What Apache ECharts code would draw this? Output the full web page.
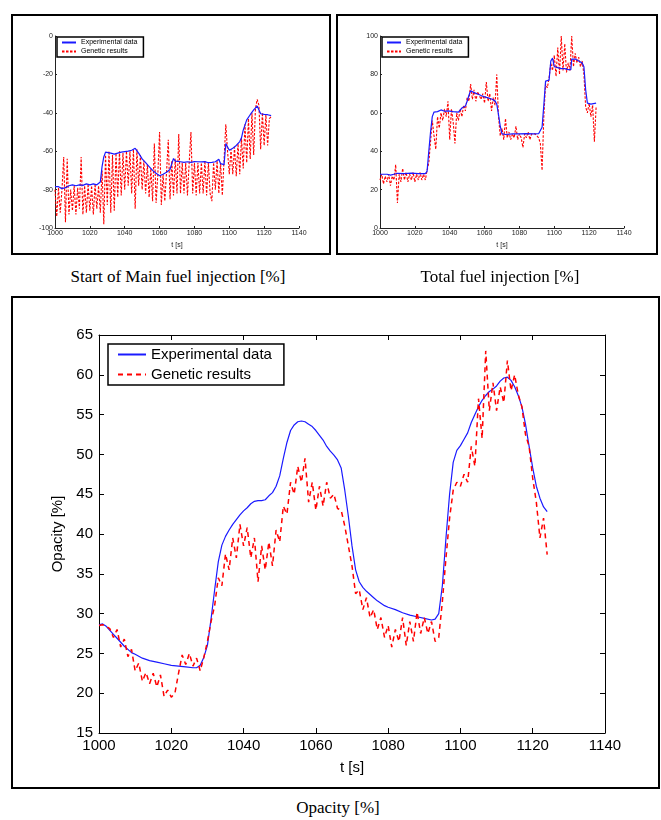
<!DOCTYPE html>
<html>
<head>
<meta charset="utf-8">
<script src="https://cdn.jsdelivr.net/npm/echarts@6/dist/echarts.min.js"></script>
<style>
body { margin: 0; background: #fff; width: 661px; height: 820px; position: relative; overflow: hidden; }
.chart { position: absolute; }
.frame { position: absolute; border: 2px solid #000; box-sizing: border-box; pointer-events: none; }
.caption { position: absolute; font-family: 'Liberation Serif', 'Times New Roman', serif; font-size: 17px; color: #000; text-align: center; white-space: nowrap; line-height: 20px; }
</style>
</head>
<body>
<div id="main-charts" class="chart" style="left:11px;top:14px;width:320px;height:241px"></div>
<div class="frame" style="left:11px;top:14px;width:320px;height:241px"></div>
<div id="total-charts" class="chart" style="left:336px;top:14px;width:322px;height:241px"></div>
<div class="frame" style="left:336px;top:14px;width:322px;height:241px"></div>
<div id="opacity-charts" class="chart" style="left:11px;top:296px;width:649px;height:493px"></div>
<div class="frame" style="left:11px;top:296px;width:649px;height:493px"></div>
<div class="caption" style="left:28px;width:300px;top:267px">Start of Main fuel injection [%]</div>
<div class="caption" style="left:350px;width:300px;top:267px">Total fuel injection [%]</div>
<div class="caption" style="left:188px;width:300px;top:798px">Opacity [%]</div>
<script>
// 遗传算法结果: 1 s 采样, t = 1000 .. 1124
const genStart = 1000
const genEnd = 1124

// Start of Main fuel injection [%]
const mainExpT = [1000, 1002, 1004, 1006, 1008, 1010, 1012, 1014, 1016, 1018, 1020, 1022, 1024, 1026, 1027,
  1028, 1029, 1030, 1032, 1034, 1036, 1038, 1040, 1042, 1044, 1046, 1047, 1048, 1050, 1052,
  1054, 1056, 1058, 1060, 1062, 1064, 1066, 1067, 1068, 1069, 1070, 1072, 1074, 1076, 1078,
  1080, 1082, 1084, 1086, 1088, 1090, 1092, 1094, 1095, 1096, 1097, 1098, 1099, 1100, 1102,
  1104, 1106, 1107, 1108, 1110, 1112, 1114, 1116, 1117, 1118, 1120, 1122, 1124]
const mainExpV = [-78.5, -78.5, -79.5, -79, -78, -77.5, -78, -77.5, -77.8, -77, -77.5, -77, -77.5, -76, -68,
  -63, -60.5, -60, -61, -61.5, -61, -60.5, -60.2, -60, -59.5, -58.5, -59, -61, -64, -66,
  -68, -70, -71.5, -72.8, -72, -71, -69.5, -66.5, -63.8, -65.2, -65.8, -65.5, -65.8, -65.5, -65.8,
  -65.4, -65.5, -65.6, -65.4, -66, -65.8, -65.5, -64.2, -66.5, -67.5, -67, -56, -57, -59.5, -58.5,
  -57, -55, -53, -49, -43.7, -41, -38.5, -36.5, -35.7, -40.5, -40.8, -41, -41.5]
const mainGen = [
  -80, -94, -79, -92, -80, -63, -97, -64, -93, -80,
  -91, -78, -93, -79, -90, -63, -93, -78, -92, -77,
  -91, -78, -93, -77, -90, -78, -92, -70, -98, -62,
  -88, -60, -92, -62, -91, -61, -84, -60, -83, -61,
  -80, -60, -78, -60, -82, -59, -90, -59, -78, -62,
  -80, -65, -82, -67, -84, -69, -86, -56, -87, -72,
  -50, -88, -72, -86, -71, -54, -85, -65, -83, -64,
  -82, -51, -82, -66, -82, -66, -83, -66, -50, -82,
  -66, -83, -66, -82, -66, -82, -65, -83, -66, -82,
  -86, -66, -80, -65, -82, -66, -83, -82, -46, -60,
  -72, -59, -72, -58, -73, -56, -72, -53, -69, -46,
  -66, -43, -64, -40, -62, -38, -33, -36, -59, -40,
  -57, -41, -57, -43, -42]

// Total fuel injection [%]
const totalExpT = [1000, 1004, 1006, 1008, 1010, 1014, 1018, 1022, 1026, 1027, 1028, 1029, 1030, 1031, 1033,
  1035, 1037, 1039, 1042, 1045, 1047, 1049, 1050, 1051, 1052, 1054, 1056, 1058, 1060, 1062,
  1064, 1066, 1067, 1068, 1069, 1070, 1072, 1076, 1080, 1084, 1088, 1091, 1092, 1093, 1094,
  1095, 1097, 1098, 1099, 1100, 1102, 1104, 1106, 1108, 1109.5, 1110, 1112, 1114, 1116, 1117,
  1118, 1119, 1121, 1124]
const totalExpV = [28, 28, 27.5, 28, 28.5, 28.3, 28.6, 28.3, 28.3, 29.5, 40, 50, 58, 60.4, 60.6,
  61.5, 60.8, 61, 60.6, 60.4, 62.5, 63.5, 66, 69, 71.5, 70.5, 69.8, 69, 68.3, 67.8,
  67.2, 66.2, 64.5, 59, 53, 49, 48.7, 49, 49, 49.2, 49, 49.1, 50, 52.5, 64,
  76.5, 77, 87, 88.5, 84, 83.5, 83, 83, 82.5, 82.5, 88, 88, 87, 86, 84,
  72, 65, 64.5, 65]
const totalGen = [
  25, 28, 23, 27, 24, 28, 22, 27, 25, 33,
  13, 28, 24, 31, 25, 29, 24, 28, 25, 29,
  24, 28, 25, 29, 25, 28, 25, 30, 34, 45,
  56, 48, 41, 58, 52, 60, 56, 62, 58, 66,
  46, 62, 55, 44, 60, 56, 62, 58, 64, 61,
  68, 66, 75, 67, 72, 66, 71, 72, 67, 70,
  65, 76, 66, 70, 61, 68, 64, 80, 58, 48,
  52, 46, 57, 47, 50, 46, 49, 47, 53, 46,
  49, 47, 42, 49, 47, 50, 46, 49, 48, 49,
  48, 47, 44, 30, 58, 75, 73, 78, 86, 82,
  90, 79, 94, 80, 100, 82, 96, 81, 86, 82,
  100, 84, 91, 86, 89, 84, 87, 80, 63, 60,
  65, 58, 64, 45, 63]

// Opacity [%]
const opacityExpT = [1000, 1001, 1002, 1003, 1004, 1005, 1006, 1007, 1008, 1009,
  1010, 1012, 1014, 1016, 1018, 1020, 1022, 1024, 1026, 1027,
  1028, 1029, 1030, 1031, 1032, 1033, 1034, 1035, 1036, 1037,
  1038, 1039, 1040, 1041, 1042, 1043, 1044, 1045, 1046, 1047,
  1048, 1049, 1050, 1051, 1052, 1053, 1054, 1055, 1056, 1057,
  1058, 1059, 1060, 1061, 1062, 1063, 1064, 1065, 1066, 1067,
  1068, 1069, 1070, 1071, 1072, 1073, 1074, 1075, 1076, 1077,
  1078, 1079, 1080, 1082, 1084, 1086, 1088, 1090, 1092,
  1093, 1094, 1095, 1096, 1097, 1098, 1099, 1100, 1101, 1102,
  1103, 1104, 1105, 1106, 1107, 1108, 1109, 1110, 1111, 1112,
  1113, 1114, 1115, 1116, 1117, 1118, 1119, 1120, 1121, 1122,
  1123, 1124]
const opacityExpV = [28.6, 28.7, 28.4, 27.9, 27.4, 26.9, 26.4, 25.9, 25.5, 25.1,
  24.9, 24.4, 24.1, 23.9, 23.7, 23.5, 23.4, 23.3, 23.2, 23.2,
  23.5, 24.5, 26.0, 29.3, 33.0, 36.5, 38.6, 39.7, 40.5, 41.2,
  41.8, 42.4, 42.9, 43.3, 43.8, 44.1, 44.2, 44.2, 44.3, 44.8,
  45.2, 46.0, 47.3, 49.5, 51.5, 53.0, 53.7, 54.1, 54.2, 54.1,
  53.8, 53.5, 53.0, 52.4, 51.8, 51.0, 50.4, 49.9, 49.3, 48.3,
  45.5, 42.2, 38.5, 35.5, 34.0, 33.3, 32.8, 32.4, 32.0, 31.6,
  31.3, 31.0, 30.8, 30.5, 30.1, 29.8, 29.6, 29.4, 29.2,
  29.3, 30.0, 33.5, 39.5, 45.0, 49.0, 50.5, 51.1, 51.9, 52.7,
  54.0, 55.0, 56.0, 56.8, 57.4, 57.9, 58.2, 58.6, 59.2, 59.6,
  59.7, 59.3, 58.5, 57.4, 56.0, 53.8, 51.0, 48.3, 46.0, 44.5,
  43.4, 42.8]
const opacityGen = [
  28.5, 28.6, 28.4, 28.1, 27.0, 28.0, 25.8, 26.8, 24.6, 25.5,
  22.8, 23.8, 21.5, 22.6, 21.2, 22.5, 20.8, 22.3, 19.6, 20.4,
  19.5, 20.0, 22.5, 24.8, 23.6, 25.0, 23.4, 24.4, 22.8, 24.5,
  26.5, 29.0, 31.0, 34.5, 33.5, 37.5, 35.5, 39.5, 37.0, 41.2,
  38.5, 40.8, 37.0, 39.5, 34.0, 38.5, 35.5, 39.0, 36.0, 40.5,
  39.0, 43.5, 42.5, 46.5, 45.0, 48.5, 46.5, 49.5, 44.0, 46.5,
  43.0, 46.0, 43.5, 46.5, 44.5, 45.0, 43.2, 43.0, 41.0, 38.5,
  36.0, 32.5, 33.0, 30.5, 32.0, 29.5, 30.5, 28.0, 29.5, 27.0,
  28.5, 25.8, 28.0, 26.5, 29.5, 26.0, 29.0, 26.5, 30.2, 27.5,
  29.5, 27.5, 29.0, 26.5, 27.0, 31.5, 37.0, 42.0, 45.5, 46.5,
  46.0, 47.5, 46.5, 51.0, 48.5, 57.0, 52.0, 63.0, 55.5, 59.0,
  55.5, 58.5, 56.5, 61.8, 58.0, 60.0, 57.5, 56.0, 52.5, 51.0,
  47.0, 44.0, 39.5, 42.0, 37.4]

const FONT = "'Liberation Sans', Arial, sans-serif"
const BLUE = '#1a1aff'
const RED = '#ff0000'

function pairs(ts, vs) {
  return ts.map((t, i) => [t, vs[i]])
}
function genPairs(vs) {
  const out = []
  for (let t = genStart; t <= genEnd; t++) out.push([t, vs[t - genStart]])
  return out
}
function plain(v) {
  return String(v)
}

function getSmallCharts(id, expT, expV, gen, yMin, yMax) {
  const charts = echarts.init(document.getElementById(id))
  charts.setOption({
    animation: false,
    grid: { left: 44, top: 22, width: 244, height: 192 },
    legend: {
      left: 46,
      top: 23,
      orient: 'vertical',
      borderColor: '#000',
      borderWidth: 1.5,
      padding: [2, 6, 2, 4],
      itemWidth: 14,
      itemHeight: 7,
      itemGap: 2,
      itemStyle: { opacity: 0 },
      textStyle: { fontSize: 7, fontFamily: FONT, color: '#000' },
      data: ['Experimental data', 'Genetic results']
    },
    xAxis: {
      type: 'value',
      min: 1000,
      max: 1140,
      interval: 20,
      name: 't [s]',
      nameLocation: 'middle',
      nameGap: 11,
      nameTextStyle: { fontSize: 7, fontFamily: FONT, color: '#222' },
      axisLine: { onZero: false, lineStyle: { color: '#222', width: 1 } },
      axisTick: { inside: true, length: 2, lineStyle: { color: '#222' } },
      axisLabel: { fontSize: 7, fontFamily: FONT, color: '#222', margin: 2, formatter: plain },
      splitLine: { show: false }
    },
    yAxis: {
      type: 'value',
      min: yMin,
      max: yMax,
      interval: 20,
      axisLine: { show: true, onZero: false, lineStyle: { color: '#222', width: 1 } },
      axisTick: { show: true, inside: true, length: 2, lineStyle: { color: '#222' } },
      axisLabel: { fontSize: 7, fontFamily: FONT, color: '#222', margin: 2, formatter: plain },
      splitLine: { show: false }
    },
    series: [
      {
        name: 'Experimental data',
        type: 'line',
        symbol: 'none',
        z: 3,
        lineStyle: { color: BLUE, width: 1.2 },
        itemStyle: { color: BLUE },
        data: pairs(expT, expV)
      },
      {
        name: 'Genetic results',
        type: 'line',
        symbol: 'none',
        z: 2,
        lineStyle: { color: RED, width: 1.1, type: [2.5, 1.5] },
        itemStyle: { color: RED },
        data: genPairs(gen)
      }
    ]
  })
}

function getOpacityCharts() {
  const charts = echarts.init(document.getElementById('opacity-charts'))
  const axisLine = { show: true, onZero: false, lineStyle: { color: '#000', width: 1 } }
  const axisTick = { show: true, inside: true, length: 5, lineStyle: { color: '#000' } }
  const label = { fontSize: 15, fontFamily: FONT, color: '#000' }
  charts.setOption({
    animation: false,
    grid: { left: 88, top: 39, width: 506, height: 398 },
    legend: {
      left: 97,
      top: 48,
      orient: 'vertical',
      borderColor: '#000',
      borderWidth: 1.5,
      padding: [3, 12, 3, 9],
      itemWidth: 28,
      itemHeight: 14,
      itemGap: 5,
      itemStyle: { opacity: 0 },
      textStyle: label,
      data: ['Experimental data', 'Genetic results']
    },
    xAxis: [
      {
        type: 'value',
        min: 1000,
        max: 1140,
        interval: 20,
        position: 'bottom',
        name: 't [s]',
        nameLocation: 'middle',
        nameGap: 27,
        nameTextStyle: label,
        axisLine: axisLine,
        axisTick: axisTick,
        axisLabel: Object.assign({ margin: 5, formatter: plain }, label),
        splitLine: { show: false }
      },
      {
        type: 'value',
        min: 1000,
        max: 1140,
        interval: 20,
        position: 'top',
        axisLine: axisLine,
        axisTick: axisTick,
        axisLabel: { show: false },
        splitLine: { show: false }
      }
    ],
    yAxis: [
      {
        type: 'value',
        min: 15,
        max: 65,
        interval: 5,
        position: 'left',
        name: 'Opacity [%]',
        nameLocation: 'middle',
        nameGap: 27,
        nameTextStyle: label,
        axisLine: axisLine,
        axisTick: axisTick,
        axisLabel: Object.assign({ margin: 6, formatter: plain }, label),
        splitLine: { show: false }
      },
      {
        type: 'value',
        min: 15,
        max: 65,
        interval: 5,
        position: 'right',
        axisLine: axisLine,
        axisTick: axisTick,
        axisLabel: { show: false },
        splitLine: { show: false }
      }
    ],
    series: [
      {
        name: 'Experimental data',
        type: 'line',
        symbol: 'none',
        lineStyle: { color: BLUE, width: 1.2 },
        itemStyle: { color: BLUE },
        data: pairs(opacityExpT, opacityExpV)
      },
      {
        name: 'Genetic results',
        type: 'line',
        symbol: 'none',
        lineStyle: { color: RED, width: 1.5, type: [5, 4] },
        itemStyle: { color: RED },
        data: genPairs(opacityGen)
      }
    ]
  })
}

getSmallCharts('main-charts', mainExpT, mainExpV, mainGen, -100, 0)
getSmallCharts('total-charts', totalExpT, totalExpV, totalGen, 0, 100)
getOpacityCharts()
</script>
</body>
</html>
